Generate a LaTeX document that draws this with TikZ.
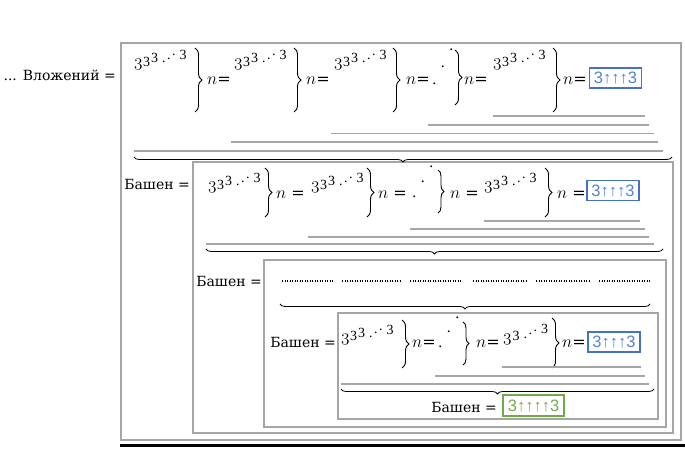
\documentclass[tikz,border=0pt]{standalone}
\usepackage{fontspec}
\setmainfont{DejaVu Serif}
\newfontfamily\boxfont{Liberation Sans}
\newfontfamily\digfont{Liberation Serif}
\usetikzlibrary{decorations.pathreplacing}

\definecolor{linegray}{RGB}{166,166,166}
\definecolor{boxblue}{RGB}{68,114,196}
\definecolor{txtblue}{RGB}{84,130,212}
\definecolor{boxgreen}{RGB}{112,173,71}

% small upright digits of the towers
\newcommand{\sml}[1]{{\fontsize{14}{14}\digfont #1}}
\newcommand{\osthree}{{\fontsize{17.28}{17}\usefont{OML}{cmm}{m}{it}3}}
\newcommand{\tdots}{\sml{.\kern1.5pt\raisebox{3.5pt}{.}\kern1.5pt\raisebox{7pt}{.}}}
\newcommand{\towerA}{\osthree\kern0.5pt\raisebox{0.5pt}{\sml{3}}\kern1pt\raisebox{4pt}{\sml{3}}\kern4pt\raisebox{4pt}{\tdots}\kern4pt\raisebox{7pt}{\sml{3}}}
\newcommand{\towerB}{\osthree\kern1pt\raisebox{0.5pt}{\sml{3}}\kern4pt\raisebox{3pt}{\tdots}\kern4pt\raisebox{8pt}{\sml{3}}}
\newcommand{\updots}[2]{.\kern4pt\raisebox{#1}{.}\kern4pt\raisebox{#2}{.}}

\begin{document}
\begin{tikzpicture}[x=1pt,y=-1pt,font=\fontsize{14}{17}\selectfont,
    every node/.style={inner sep=0pt},
    nlab/.style={anchor=base west,font=\fontsize{16}{17}\selectfont},
    frame/.style={draw=linegray,line width=1.8pt},
    uline/.style={draw=linegray,line width=1.7pt},
    vbrace/.style={decorate,decoration={brace,amplitude=7pt},line width=0.9pt},
    ubrace/.style={decorate,decoration={brace,mirror,amplitude=5pt},line width=0.8pt},
    dotrow/.style={line width=1.1pt,dash pattern=on 1pt off 1.5pt},
    blue3/.style={draw=boxblue,line width=1.6pt,text=txtblue,font=\fontsize{16.5}{16.5}\boxfont,
      minimum width=52pt,minimum height=20pt,inner sep=1pt},
    green3/.style={blue3,draw=boxgreen,text=boxgreen,minimum width=61pt,minimum height=21pt}]
  \useasboundingbox (0,0) rectangle (685,454);
  % frames
  \draw[frame] (121,43) rectangle (681,440);
  \draw[frame] (193,162) rectangle (673,433);
  \draw[frame] (264,260) rectangle (666,427);
  \draw[frame] (338,313) rectangle (658,419);
  \draw[line width=3pt] (120,445) -- (685,445);

  % row 1
  \node[anchor=base east] (vl) at (116,81) {... Вложений =};
  \node[anchor=base west] (a1) at (134,67) {\towerA};
  \node[anchor=base west] (a2) at (234,67) {\towerA};
  \node[anchor=base west] (a3) at (334,67) {\towerA};
  \node[anchor=base west] (a4) at (432,85) {\updots{17pt}{34pt}};
  \node[anchor=base west] (a5) at (493,67) {\towerA};
  \foreach \x in {207,306,406,464,563}
    \node[nlab] (an\x) at (\x,85) {$n$=};
  \foreach \x in {195,294,393,553}
    \draw[vbrace] (\x,48) -- (\x,112);
  \draw[vbrace] (455,50) -- (455,105);
  \node[blue3] (bx1) at (615.5,78) {3↑↑↑3};
  \foreach \xa/\xb/\yy in {493/645/116,428/649/125,331/654/133.5,231/658/142,134/663/151}
    \draw[uline] (\xa,\yy) -- (\xb,\yy);
  \draw[ubrace] (134,157) -- (672,157);

  % row 2
  \node[anchor=base east] (b0) at (190,190) {Башен =};
  \node[anchor=base west] (b1) at (208,190) {\towerA};
  \node[anchor=base west] (b2) at (311,190) {\towerA};
  \node[anchor=base west] (b3) at (412,198) {\updots{15pt}{30pt}};
  \node[anchor=base west] (b4) at (484,190) {\towerA};
  \foreach \x in {276,378,450,557}
    \node[nlab] (bn\x) at (\x,199) {$n$ =};
  \foreach \x in {265,367,545}
    \draw[vbrace] (\x,168) -- (\x,217);
  \draw[vbrace,decoration={amplitude=6pt}] (438,170) -- (438,213);
  \node[blue3] (bx2) at (613,190.5) {3↑↑↑3};
  \foreach \xa/\xb/\yy in {484/640/221,410/645/229,308/649/237,206/654/244}
    \draw[uline] (\xa,\yy) -- (\xb,\yy);
  \draw[ubrace] (206,249) -- (663,249);

  % row 3
  \node[anchor=base east] (c0) at (262,287) {Башен =};
  \foreach \xa/\xb in {282/333,342/400,410/462,473/527,536/590,599/650}
    \draw[dotrow] (\xa,281) -- (\xb,281);
  \draw[ubrace] (280,304) -- (650,304);

  % row 4
  \node[anchor=base east] (d0) at (336,347) {Башен =};
  \node[anchor=base west] (d1) at (341,341) {\towerA};
  \node[anchor=base west] (d2) at (438,347) {\updots{14.5pt}{29pt}};
  \node[anchor=base west] (d3) at (503,341) {\towerB};
  \foreach \x in {412,476,562}
    \node[nlab] (dn\x) at (\x,347) {$n$=};
  \draw[vbrace] (402,320) -- (402,368);
  \draw[vbrace,decoration={amplitude=6pt}] (463,322) -- (463,365);
  \draw[vbrace] (552,318) -- (552,368);
  \node[blue3] (bx3) at (614,342) {3↑↑↑3};
  \foreach \xa/\xb/\yy in {502/641/367,435/645/376,341/649/384}
    \draw[uline] (\xa,\yy) -- (\xb,\yy);
  \draw[ubrace] (341,389) -- (654,389);
  \node[anchor=base east] (d9) at (497,412) {Башен =};
  \node[green3] (gx) at (533.5,405.5) {3↑↑↑↑3};
\end{tikzpicture}
\end{document}
